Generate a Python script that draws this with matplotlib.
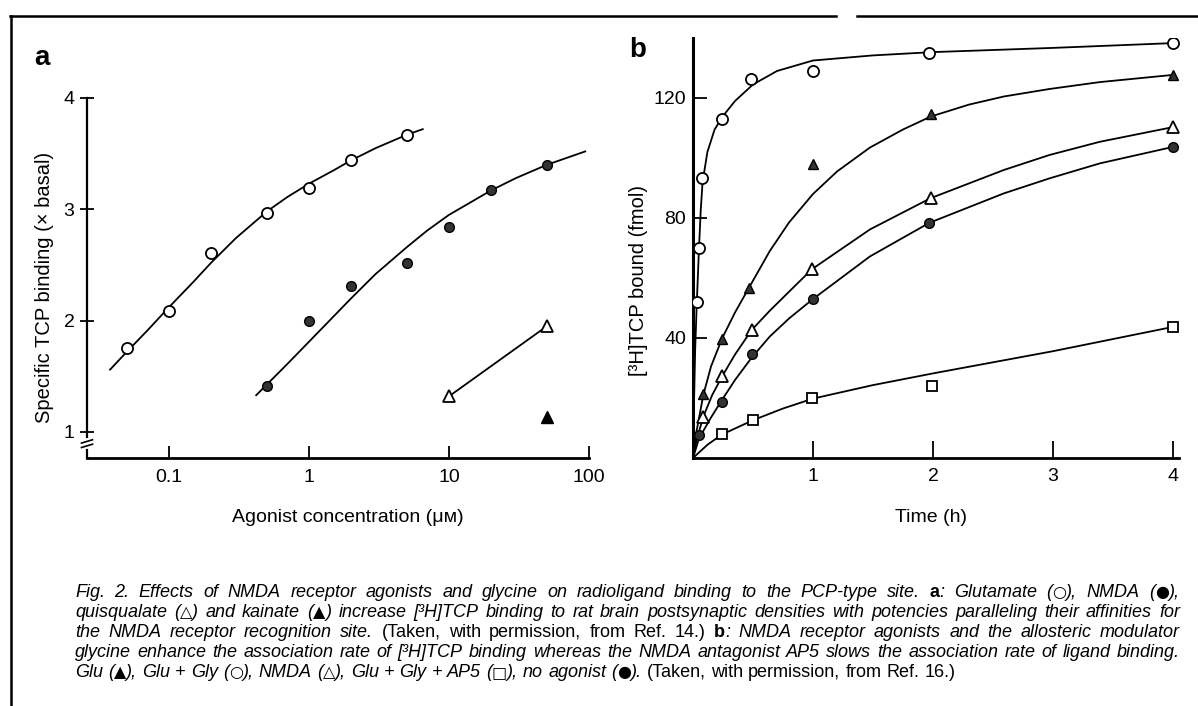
import matplotlib
matplotlib.use('Agg')
import matplotlib.pyplot as plt
import matplotlib.transforms as mtransforms

# Panel a: specific TCP binding vs agonist concentration (uM)
glu_conc = [0.05, 0.1, 0.2, 0.5, 1, 2, 5]
glu_bind = [1.75, 2.09, 2.61, 2.97, 3.19, 3.44, 3.67]
glu_fit_x = [0.038, 0.05, 0.07, 0.1, 0.15, 0.2, 0.3, 0.5, 0.7, 1, 1.5, 2, 3, 5, 6.5]
glu_fit_y = [1.56, 1.72, 1.91, 2.12, 2.35, 2.52, 2.74, 2.98, 3.11, 3.23, 3.35, 3.44, 3.55, 3.67, 3.72]

nmda_conc = [0.5, 1, 2, 5, 10, 20, 50]
nmda_bind = [1.41, 2.0, 2.31, 2.52, 2.84, 3.17, 3.40]
nmda_fit_x = [0.42, 0.7, 1, 2, 3, 5, 7, 10, 20, 30, 50, 94]
nmda_fit_y = [1.33, 1.61, 1.81, 2.20, 2.42, 2.66, 2.81, 2.95, 3.17, 3.28, 3.40, 3.52]

quis_conc = [10, 50]
quis_bind = [1.32, 1.95]
kain_conc = [50]
kain_bind = [1.13]

# Panel b: [3H]TCP bound (fmol) vs time (h)
gg_t = [0.033, 0.048, 0.078, 0.244, 0.483, 1.0, 1.97, 4.0]
gg_v = [52, 70, 93.4, 112.9, 126.3, 129, 135, 138.3]
gg_fit_t = [0, 0.008, 0.018, 0.03, 0.04, 0.05, 0.065, 0.08, 0.12, 0.18, 0.25, 0.35, 0.5, 0.7, 1.0, 1.5, 2.0, 3.0, 4.0]
gg_fit_v = [0, 18, 36, 50, 60, 70, 83, 92, 102, 109.5, 114, 119, 124.5, 129, 132.5, 134.2, 135.3, 136.7, 138.3]

glu_t = [0.086, 0.244, 0.47, 1.0, 1.98, 4.0]
glu_v = [21.3, 39.6, 56.6, 98.0, 114.7, 127.7]
glu_fit_t = [0, 0.03, 0.086, 0.15, 0.244, 0.35, 0.47, 0.64, 0.8, 1.0, 1.2, 1.475, 1.75, 1.98,
             2.3, 2.59, 2.97, 3.39, 4.0]
glu_fit_v = [0, 9, 21, 30.5, 40, 48.5, 57, 69, 78.5, 88, 95.5, 103.5, 109.5, 113.8,
             117.8, 120.5, 123, 125.3, 127.7]

nm_t = [0.086, 0.244, 0.49, 0.99, 1.98, 4.0]
nm_v = [13.8, 27.3, 42.7, 62.9, 86.6, 110.3]
nm_fit_t = [0, 0.03, 0.086, 0.16, 0.244, 0.35, 0.49, 0.64, 0.99, 1.475, 1.98, 2.59, 2.97, 3.39, 4.0]
nm_fit_v = [0, 6, 13.8, 21, 27.3, 34.5, 42.7, 49.1, 62.9, 76.2, 86.6, 96, 101, 105.4, 110.3]

ap5_t = [0.24, 0.5, 0.99, 1.99, 4.0]
ap5_v = [8.0, 12.7, 20.1, 24.0, 43.7]
ap5_fit_t = [0, 0.12, 0.24, 0.5, 0.75, 1.0, 1.5, 2.0, 3.0, 4.0]
ap5_fit_v = [0, 4.4, 7.8, 12.6, 16.5, 19.8, 24.3, 28.2, 35.6, 43.7]

none_t = [0.05, 0.244, 0.49, 1.0, 1.97, 4.0]
none_v = [7.7, 18.8, 34.6, 52.9, 78.4, 103.7]
none_fit_t = [0, 0.05, 0.15, 0.244, 0.35, 0.49, 0.64, 0.8, 1.0, 1.475, 1.97, 2.59, 2.97, 3.39, 4.0]
none_fit_v = [0, 6.5, 13.5, 19.5, 26, 33.5, 40.5, 46.5, 53, 67.2, 78.4, 88.2, 93.2, 98.2, 103.7]

FONT = ['Liberation Sans', 'DejaVu Sans']
plt.rcParams['font.family'] = FONT

W, H = 1198, 706
fig = plt.figure(figsize=(W / 100, H / 100), dpi=100)

def px_axes(left, top, right, bottom):
    return fig.add_axes([left / W, 1 - bottom / H, (right - left) / W, (bottom - top) / H])

open_kw = dict(mfc='white', mec='black', mew=1.3, ls='none', ms=8, zorder=5)
fill_kw = dict(mfc='#333333', mec='black', mew=1.0, ls='none', ms=7, zorder=5)
line_kw = dict(color='black', lw=1.3)

# ---------- panel a ----------
ax = px_axes(87, 98, 589, 458)
ax.set_xscale('log')
ax.set_xlim(0.026, 100)
ax.set_ylim(0.766, 4.0)
ax.plot(glu_fit_x, glu_fit_y, **line_kw)
ax.plot(nmda_fit_x, nmda_fit_y, **line_kw)
ax.plot(quis_conc, quis_bind, **line_kw)
ax.plot(glu_conc, glu_bind, 'o', **open_kw)
ax.plot(nmda_conc, nmda_bind, 'o', **fill_kw)
ax.plot(quis_conc, quis_bind, '^', **open_kw)
ax.plot(kain_conc, kain_bind, '^', mfc='black', mec='black', ls='none', ms=8)

ax.set_xticks([0.1, 1, 10, 100])
ax.set_xticklabels(['0.1', '1', '10', '100'])
ax.xaxis.set_minor_locator(matplotlib.ticker.NullLocator())
ax.set_yticks([1, 2, 3, 4])
ax.tick_params(axis='x', direction='in', length=9, width=1.3, labelsize=14, pad=8)
ax.tick_params(axis='y', direction='inout', length=10, width=1.3, labelsize=14, pad=4)
for s in ['top', 'right']:
    ax.spines[s].set_visible(False)
ax.spines['bottom'].set_linewidth(2)
ax.spines['left'].set_linewidth(1.6)
ax.spines['left'].set_bounds(0.955, 4.0)
# axis break below 1
bt = mtransforms.blended_transform_factory(ax.transAxes, ax.transData)
ax.plot([0, 0], [0.766, 0.835], color='black', lw=1.6, transform=bt, clip_on=False)
ax.plot([-0.011, 0.011], [0.90, 0.93], color='black', lw=1.2, transform=bt, clip_on=False)
ax.plot([-0.011, 0.011], [0.86, 0.89], color='black', lw=1.2, transform=bt, clip_on=False)

fig.text(45 / W, 1 - 287 / H, 'Specific TCP binding (× basal)', rotation=90,
         ha='center', va='center', fontsize=14.5)
fig.text(348 / W, 1 - 517 / H, 'Agonist concentration (μᴍ)', ha='center', va='center', fontsize=14)
fig.text(42 / W, 1 - 58 / H, 'a', ha='center', va='center', fontsize=20, fontweight='bold')

# ---------- panel b ----------
bx = px_axes(693, 38, 1179, 458)
bx.set_xlim(0, 4.05)
bx.set_ylim(0, 140)
bx.plot(gg_fit_t, gg_fit_v, **line_kw)
bx.plot(glu_fit_t, glu_fit_v, **line_kw)
bx.plot(nm_fit_t, nm_fit_v, **line_kw)
bx.plot(ap5_fit_t, ap5_fit_v, **line_kw)
bx.plot(none_fit_t, none_fit_v, **line_kw)
bx.plot(gg_t, gg_v, 'o', **open_kw)
bx.plot(glu_t, glu_v, '^', **fill_kw)
bx.plot(nm_t, nm_v, '^', **open_kw)
bx.plot(ap5_t, ap5_v, 's', **dict(open_kw, ms=7))
bx.plot(none_t, none_v, 'o', **fill_kw)

bx.set_xticks([1, 2, 3, 4])
bx.set_yticks([40, 80, 120])
bx.tick_params(axis='x', direction='in', length=12, width=1.3, labelsize=14, pad=7)
bx.tick_params(axis='y', direction='in', length=10, width=1.3, labelsize=14, pad=5)
for s in ['top', 'right']:
    bx.spines[s].set_visible(False)
bx.spines['bottom'].set_linewidth(2)
bx.spines['left'].set_linewidth(2.2)

fig.text(638 / W, 1 - 281 / H, '[³H]TCP bound (fmol)', rotation=90,
         ha='center', va='center', fontsize=14.5)
fig.text(931 / W, 1 - 517 / H, 'Time (h)', ha='center', va='center', fontsize=14)
fig.text(638 / W, 1 - 50 / H, 'b', ha='center', va='center', fontsize=20, fontweight='bold')

# frame lines of the page
fig.add_artist(plt.Line2D([10 / W, 836 / W], [1 - 16 / H, 1 - 16 / H], color='black', lw=1.8))
fig.add_artist(plt.Line2D([857 / W, 1], [1 - 16 / H, 1 - 16 / H], color='black', lw=1.8))
fig.add_artist(plt.Line2D([11 / W, 11 / W], [0, 1 - 16 / H], color='black', lw=1.8))

# ---------- caption (justified) ----------
cap_size = 13
STYLES = {
    'i': dict(style='italic', fontsize=cap_size),
    'r': dict(fontsize=cap_size),
    'b': dict(weight='bold', fontsize=cap_size),
    's': dict(fontsize=cap_size - 1.5, family=['DejaVu Sans']),
}
caption = [
    [('Fig. 2. Effects of NMDA receptor agonists and glycine on radioligand binding to the PCP-type site. ', 'i'),
     ('a', 'b'), (': Glutamate (', 'i'), ('○', 's'), ('), NMDA (', 'i'), ('●', 's'), ('),', 'i')],
    [('quisqualate (', 'i'), ('△', 's'), (') and kainate (', 'i'), ('▲', 's'),
     (') increase [³H]TCP binding to rat brain postsynaptic densities with '
      'potencies paralleling their affinities for', 'i')],
    [('the NMDA receptor recognition site. ', 'i'), ('(Taken, with permission, from Ref. 14.) ', 'r'),
     ('b', 'b'), (': NMDA receptor agonists and the allosteric modulator', 'i')],
    [('glycine enhance the association rate of [³H]TCP binding whereas the NMDA antagonist AP5 slows the '
      'association rate of ligand binding.', 'i')],
    [('Glu (', 'i'), ('▲', 's'), ('), Glu + Gly (', 'i'), ('○', 's'), ('), NMDA (', 'i'), ('△', 's'),
     ('), Glu + Gly + AP5 (', 'i'), ('□', 's'), ('), no agonist (', 'i'), ('●', 's'), ('). ', 'i'),
     ('(Taken, with permission, from Ref. 16.)', 'r')],
]
cap_x0, cap_x1 = 75, 1180
cap_base = [597, 617, 637, 657, 677]

fig.canvas.draw()
renderer = fig.canvas.get_renderer()


def split_words(segs):
    words = []
    glue = False
    for text, sty in segs:
        parts = text.split(' ')
        for k, p in enumerate(parts):
            if p == '':
                glue = False
                continue
            if k == 0 and glue and words:
                words[-1].append((p, sty))
            else:
                words.append([(p, sty)])
            glue = True
        if text.endswith(' '):
            glue = False
    return words


sp = fig.text(0, 0, 'a b', **STYLES['i'])
sp2 = fig.text(0, 0, 'ab', **STYLES['i'])
space_w = sp.get_window_extent(renderer).width - sp2.get_window_extent(renderer).width
sp.remove()
sp2.remove()

for segs, yb, last in zip(caption, cap_base, [False] * 4 + [True]):
    words = split_words(segs)
    placed = []
    total = 0
    for w in words:
        pieces = []
        for s, sty in w:
            t = fig.text(0, 1 - yb / H, s, va='baseline', **STYLES[sty])
            wd = t.get_window_extent(renderer).width
            pieces.append((t, wd))
            total += wd
        placed.append(pieces)
    if last:
        gap = space_w
    else:
        gap = (cap_x1 - cap_x0 - total) / (len(placed) - 1)
    x = cap_x0
    for pieces in placed:
        for t, wd in pieces:
            t.set_x(x / W)
            x += wd
        x += gap

fig.savefig('out.png', dpi=100)
